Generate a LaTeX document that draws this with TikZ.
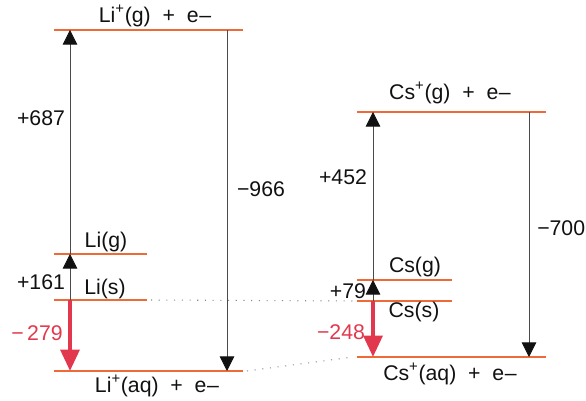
\documentclass[tikz,border=0pt]{standalone}
\usepackage{tikz}
\usetikzlibrary{arrows.meta,positioning,calc}
\usepackage{fontspec}
\setmainfont{Liberation Sans}
\usepackage{xcolor}
\definecolor{bhInk}{HTML}{111111}
\definecolor{bhStem}{HTML}{4A4A4A}
\definecolor{bhLevel}{HTML}{EE6A38}
\definecolor{bhRed}{HTML}{E2384D}
\definecolor{bhDot}{HTML}{8A8A8A}
\tikzset{
  lvl/.style={draw=bhLevel, line width=2pt},
  lbl/.style={font=\fontsize{16}{18}\selectfont, text=bhInk, inner sep=0pt},
  lblR/.style={lbl, text=bhRed},
  up/.style={-{Triangle[length=11pt, width=11pt, color=bhInk]}, draw=bhStem, line width=0.6pt},
  dn/.style={-{Triangle[length=11pt, width=11pt, color=bhInk]}, draw=bhStem, line width=0.6pt},
  hyd/.style={-{Triangle[length=16pt, width=14pt]}, draw=bhRed, fill=bhRed, line width=3pt},
  link/.style={draw=bhDot, line width=0.8pt, dash pattern=on 0.8pt off 5pt},
}
\newcommand{\eminus}{e\kern0.5pt–}
\begin{document}
\begin{tikzpicture}[x=0.02646cm, y=-0.02646cm]
        \useasboundingbox (0,0) rectangle (586,401);
        % ---------- Li ----------
        \coordinate (ligpA) at (54,30);   \coordinate (ligpB) at (243,30);
        \coordinate (ligA) at (54,254);   \coordinate (ligB) at (147,254);
        \coordinate (lisA) at (54,300);   \coordinate (lisB) at (147,300);
        \coordinate (liaqA) at (54,371);  \coordinate (liaqB) at (243,371);
        \draw[lvl] (ligpA) -- (ligpB);
        \draw[lvl] (ligA) -- (ligB);
        \draw[lvl] (lisA) -- (lisB);
        \draw[lvl] (liaqA) -- (liaqB);
        \coordinate (liUpTop) at (70,30);  \coordinate (liUpMid) at (70,254);
        \coordinate (liUpBot) at (70,300); \coordinate (liAqEnd) at (70,371);
        \coordinate (liDnTop) at (227,30); \coordinate (liDnBot) at (227,371);
        \draw[up] (liUpMid) -- (liUpTop);
        \draw[up] (liUpBot) -- (liUpMid);
        \draw[dn] (liDnTop) -- (liDnBot);
        \draw[hyd] (liUpBot) -- (liAqEnd);
        \node[lbl] (tLigp) at (155,16) {Li\textsuperscript{+}(g)\ \ +\ \ \eminus};
        \node[lbl] (tLig) at (106,242) {Li(g)};
        \node[lbl] (tLis) at (105,289) {Li(s)};
        \node[lbl] (tLiaq) at (157,386) {Li\textsuperscript{+}(aq)\ \ +\ \ \eminus};
        \node[lbl] (t687) at (41,118) {+687};
        \node[lbl] (t161) at (41,282) {+161};
        \node[lbl] (t966) at (261,189) {−966};
        \node[lblR] (t279) at (37,333) {−\,279};
        % ---------- Cs ----------
        \coordinate (csgpA) at (357,112);  \coordinate (csgpB) at (546,112);
        \coordinate (csgA) at (357,280);   \coordinate (csgB) at (452,280);
        \coordinate (cssA) at (357,301);   \coordinate (cssB) at (452,301);
        \coordinate (csaqA) at (357,357);  \coordinate (csaqB) at (546,357);
        \draw[lvl] (csgpA) -- (csgpB);
        \draw[lvl] (csgA) -- (csgB);
        \draw[lvl] (cssA) -- (cssB);
        \draw[lvl] (csaqA) -- (csaqB);
        \coordinate (csUpTop) at (373,112); \coordinate (csUpMid) at (373,280);
        \coordinate (csUpBot) at (373,301); \coordinate (csAqEnd) at (373,357);
        \coordinate (csDnTop) at (529,112); \coordinate (csDnBot) at (529,357);
        \draw[up] (csUpMid) -- (csUpTop);
        \draw[up] (csUpBot) -- (csUpMid);
        \draw[dn] (csDnTop) -- (csDnBot);
        \draw[hyd] (csUpBot) -- (csAqEnd);
        \node[lbl] (tCsgp) at (450,93) {Cs\textsuperscript{+}(g)\ \ +\ \ \eminus};
        \node[lbl] (tCsg) at (415,267) {Cs(g)};
        \node[lbl] (tCss) at (414,312) {Cs(s)};
        \node[lbl] (tCsaq) at (450,374) {Cs\textsuperscript{+}(aq)\ \ +\ \ \eminus};
        \node[lbl] (t452) at (343,177) {+452};
        \node[lbl] (t79) at (348,291) {+79};
        \node[lbl, anchor=west] (t700) at (537,228) {−700};
        \node[lblR] (t248) at (341,332) {−248};
        % ---------- links ----------
        \draw[link] ($(lisB)+(4,0)$) -- ($(cssA)+(-4,0)$);
        \draw[link] ($(liaqB)+(4,0)$) -- ($(csaqA)+(-4,0)$);
\end{tikzpicture}
\end{document}
